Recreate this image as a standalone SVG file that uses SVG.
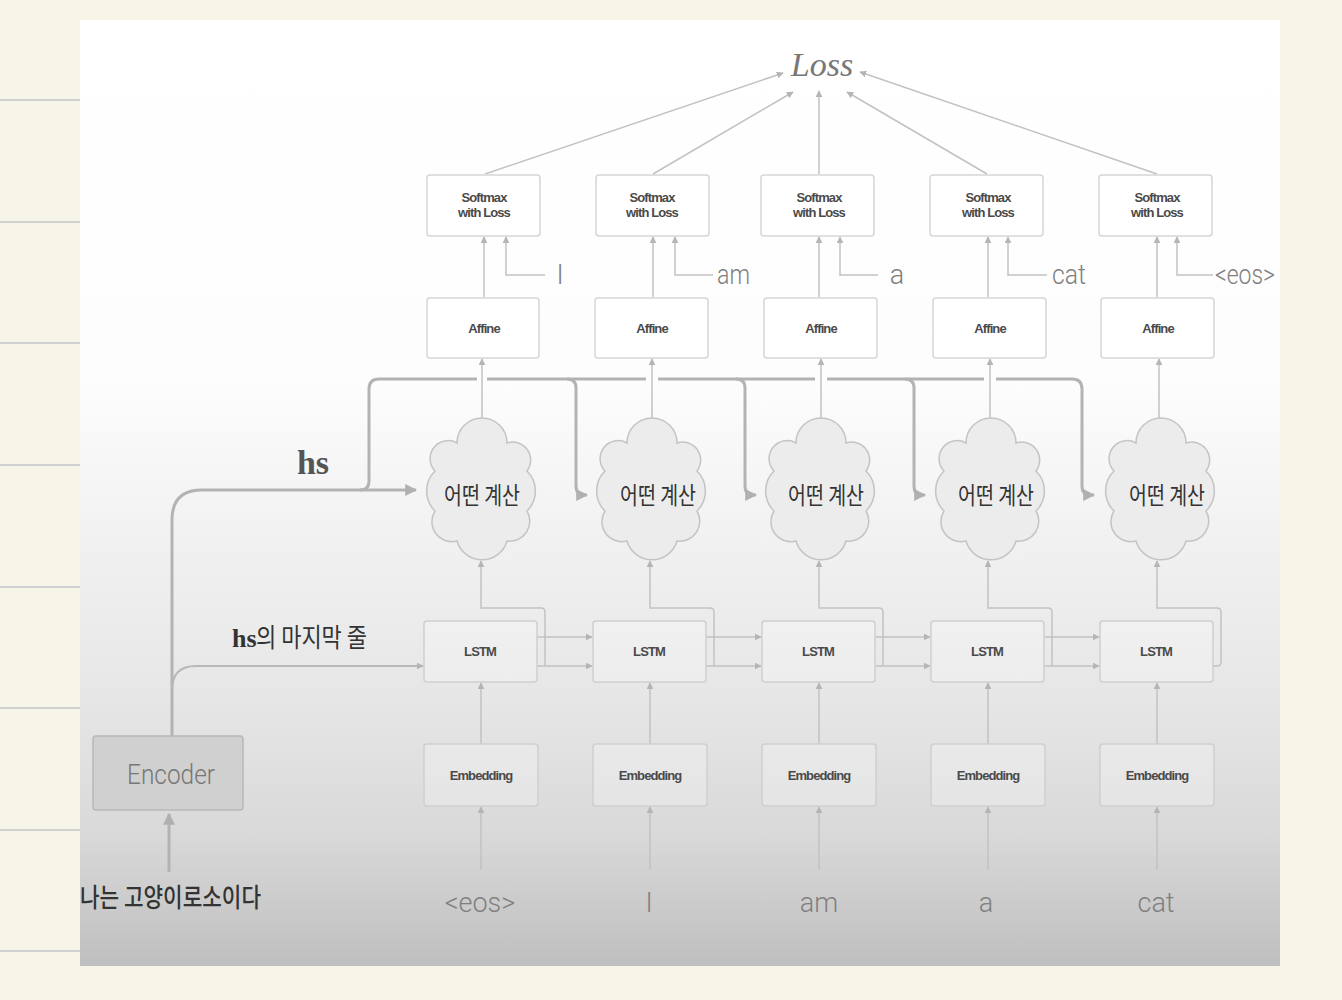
<svg xmlns="http://www.w3.org/2000/svg" width="1342" height="1000" viewBox="0 0 1342 1000">
<defs>
<linearGradient id="bg" gradientUnits="userSpaceOnUse" x1="0" y1="20" x2="0" y2="966">
<stop offset="0" stop-color="#ffffff"/>
<stop offset="0.38" stop-color="#fdfdfd"/>
<stop offset="0.55" stop-color="#f1f1f1"/>
<stop offset="0.72" stop-color="#e6e6e6"/>
<stop offset="0.86" stop-color="#d9d9d9"/>
<stop offset="1" stop-color="#bfbfbf"/>
</linearGradient>
<marker id="ah" viewBox="0 0 10 10" refX="9" refY="5" markerWidth="7" markerHeight="7" markerUnits="userSpaceOnUse" orient="auto"><path d="M0,0 L10,5 L0,10 Z" fill="#b5b5b5"/></marker>
<marker id="ahb" viewBox="0 0 10 10" refX="9" refY="5" markerWidth="12" markerHeight="12" markerUnits="userSpaceOnUse" orient="auto"><path d="M0,0 L10,5 L0,10 Z" fill="#b0b0b0"/></marker>
<path id="cloud" d="M-24,-46 A25,25 0 0 1 26,-46 A18,18 0 0 1 46,-18 A28,28 0 0 1 46,22 A20,20 0 0 1 26,52 A26,26 0 0 1 -24,52 A20,20 0 0 1 -46,22 A28,28 0 0 1 -46,-18 A18,18 0 0 1 -24,-46 Z"/>
</defs>
<style>
.box{fill:#ffffff;stroke:#d6d6d6;stroke-width:1.5}
.box2{fill:#ffffff;fill-opacity:0.25;stroke:#cfcfcf;stroke-width:1.5}
.bt{font-family:"Liberation Sans",Arial,sans-serif;font-size:13px;font-weight:bold;fill:#4a4a4a;text-anchor:middle;letter-spacing:-0.9px}
.ln{fill:none;stroke:#c2c2c2;stroke-width:1.5}
.bus{fill:none;stroke:#b3b3b3;stroke-width:3}
.lbl{font-family:Roboto,"Liberation Sans",sans-serif;font-weight:300;font-size:27px;fill:#808080}
.cl{fill:#ececec;stroke:#c4c4c4;stroke-width:1.5}
.ct{font-family:"Noto Sans CJK KR",sans-serif;font-size:24px;fill:#333}
</style>
<rect x="0" y="0" width="1342" height="1000" fill="#f7f4e8"/>
<g stroke="#cfd0cf" stroke-width="2">
<line x1="0" y1="100" x2="80" y2="100"/><line x1="0" y1="222" x2="80" y2="222"/><line x1="0" y1="343" x2="80" y2="343"/><line x1="0" y1="465" x2="80" y2="465"/><line x1="0" y1="587" x2="80" y2="587"/><line x1="0" y1="708" x2="80" y2="708"/><line x1="0" y1="830" x2="80" y2="830"/><line x1="0" y1="951" x2="80" y2="951"/>
</g>
<rect x="80" y="20" width="1200" height="946" fill="url(#bg)"/>

<g id="connectors">
<line class="ln" x1="485" y1="174" x2="783" y2="73" marker-end="url(#ah)"/>
<line class="ln" x1="653" y1="174" x2="793" y2="92" marker-end="url(#ah)"/>
<line class="ln" x1="819" y1="174" x2="819" y2="91" marker-end="url(#ah)"/>
<line class="ln" x1="987" y1="174" x2="847" y2="92" marker-end="url(#ah)"/>
<line class="ln" x1="1157" y1="174" x2="860" y2="72" marker-end="url(#ah)"/>
<line class="ln" x1="484" y1="297" x2="484" y2="237" marker-end="url(#ah)"/>
<line class="ln" x1="653" y1="297" x2="653" y2="237" marker-end="url(#ah)"/>
<line class="ln" x1="819" y1="297" x2="819" y2="237" marker-end="url(#ah)"/>
<line class="ln" x1="988" y1="297" x2="988" y2="237" marker-end="url(#ah)"/>
<line class="ln" x1="1157" y1="297" x2="1157" y2="237" marker-end="url(#ah)"/>
<path class="ln" d="M545,275 H506 V237" marker-end="url(#ah)"/>
<path class="ln" d="M713,275 H675 V237" marker-end="url(#ah)"/>
<path class="ln" d="M878,275 H840 V237" marker-end="url(#ah)"/>
<path class="ln" d="M1047,275 H1008 V237" marker-end="url(#ah)"/>
<path class="ln" d="M1213,275 H1177 V237" marker-end="url(#ah)"/>
<line class="ln" x1="482" y1="418" x2="482" y2="359" marker-end="url(#ah)"/>
<line class="ln" x1="652" y1="418" x2="652" y2="359" marker-end="url(#ah)"/>
<line class="ln" x1="821" y1="418" x2="821" y2="359" marker-end="url(#ah)"/>
<line class="ln" x1="990" y1="418" x2="990" y2="359" marker-end="url(#ah)"/>
<line class="ln" x1="1159" y1="418" x2="1159" y2="359" marker-end="url(#ah)"/>
<path class="bus" d="M172,736 V520 Q172,490 202,490 H416" marker-end="url(#ahb)"/>
<path class="bus" d="M360,490 Q369,490 369,481 V389 Q369,379 379,379 H477"/>
<path class="bus" d="M487,379 H646"/>
<path class="bus" d="M658,379 H815"/>
<path class="bus" d="M827,379 H984"/>
<path class="bus" d="M996,379 H1072 Q1082,379 1082,389 V486 Q1082,495 1091,495 H1094" marker-end="url(#ahb)"/>
<path class="bus" d="M567,379 Q576,379 576,388 V486 Q576,495 585,495 H587" marker-end="url(#ahb)"/>
<path class="bus" d="M736,379 Q745,379 745,388 V486 Q745,495 754,495 H756" marker-end="url(#ahb)"/>
<path class="bus" d="M905,379 Q914,379 914,388 V486 Q914,495 923,495 H925" marker-end="url(#ahb)"/>
<path class="ln" style="stroke-width:2.2;stroke:#b8b8b8" d="M172,690 Q172,666 196,666 H423" marker-end="url(#ah)"/>
<path class="ln" d="M545,666 V612 Q545,608 541,608 H481 V561" marker-end="url(#ah)"/>
<path class="ln" d="M714,666 V612 Q714,608 710,608 H650 V561" marker-end="url(#ah)"/>
<path class="ln" d="M883,666 V612 Q883,608 879,608 H819 V561" marker-end="url(#ah)"/>
<path class="ln" d="M1052,666 V612 Q1052,608 1048,608 H988 V561" marker-end="url(#ah)"/>
<path class="ln" d="M1213,666 H1217 Q1221,666 1221,662 V612 Q1221,608 1217,608 H1157 V561" marker-end="url(#ah)"/>
<line class="ln" x1="537" y1="637" x2="592" y2="637" marker-end="url(#ah)"/>
<line class="ln" x1="537" y1="666" x2="592" y2="666" marker-end="url(#ah)"/>
<line class="ln" x1="706" y1="637" x2="761" y2="637" marker-end="url(#ah)"/>
<line class="ln" x1="706" y1="666" x2="761" y2="666" marker-end="url(#ah)"/>
<line class="ln" x1="875" y1="637" x2="930" y2="637" marker-end="url(#ah)"/>
<line class="ln" x1="875" y1="666" x2="930" y2="666" marker-end="url(#ah)"/>
<line class="ln" x1="1044" y1="637" x2="1099" y2="637" marker-end="url(#ah)"/>
<line class="ln" x1="1044" y1="666" x2="1099" y2="666" marker-end="url(#ah)"/>
<line class="ln" x1="481" y1="744" x2="481" y2="683" marker-end="url(#ah)"/>
<line class="ln" x1="650" y1="744" x2="650" y2="683" marker-end="url(#ah)"/>
<line class="ln" x1="819" y1="744" x2="819" y2="683" marker-end="url(#ah)"/>
<line class="ln" x1="988" y1="744" x2="988" y2="683" marker-end="url(#ah)"/>
<line class="ln" x1="1157" y1="744" x2="1157" y2="683" marker-end="url(#ah)"/>
<line class="ln" x1="481" y1="870" x2="481" y2="807" marker-end="url(#ah)"/>
<line class="ln" x1="650" y1="870" x2="650" y2="807" marker-end="url(#ah)"/>
<line class="ln" x1="819" y1="870" x2="819" y2="807" marker-end="url(#ah)"/>
<line class="ln" x1="988" y1="870" x2="988" y2="807" marker-end="url(#ah)"/>
<line class="ln" x1="1157" y1="870" x2="1157" y2="807" marker-end="url(#ah)"/>
<line class="bus" x1="169" y1="872" x2="169" y2="814" marker-end="url(#ahb)"/>
</g>

<g id="loss"><text x="822" y="76" font-family="'Liberation Serif',serif" font-style="italic" font-size="34" fill="#777" text-anchor="middle">Loss</text></g>

<g id="softmax1"><rect class="box" x="427" y="175" width="113" height="61" rx="3"/><text class="bt" x="484" y="202" font-size="12">Softmax</text><text class="bt" x="484" y="217" font-size="12">with Loss</text></g>
<g id="softmax2"><rect class="box" x="596" y="175" width="113" height="61" rx="3"/><text class="bt" x="652" y="202" font-size="12">Softmax</text><text class="bt" x="652" y="217" font-size="12">with Loss</text></g>
<g id="softmax3"><rect class="box" x="761" y="175" width="113" height="61" rx="3"/><text class="bt" x="819" y="202" font-size="12">Softmax</text><text class="bt" x="819" y="217" font-size="12">with Loss</text></g>
<g id="softmax4"><rect class="box" x="930" y="175" width="113" height="61" rx="3"/><text class="bt" x="988" y="202" font-size="12">Softmax</text><text class="bt" x="988" y="217" font-size="12">with Loss</text></g>
<g id="softmax5"><rect class="box" x="1099" y="175" width="113" height="61" rx="3"/><text class="bt" x="1157" y="202" font-size="12">Softmax</text><text class="bt" x="1157" y="217" font-size="12">with Loss</text></g>

<g id="label-I"><text class="lbl" x="560" y="284" text-anchor="middle">I</text></g>
<g id="label-am"><text class="lbl" x="717" y="284" textLength="33" lengthAdjust="spacingAndGlyphs">am</text></g>
<g id="label-a"><text class="lbl" x="897" y="284" text-anchor="middle">a</text></g>
<g id="label-cat"><text class="lbl" x="1052" y="284" textLength="34" lengthAdjust="spacingAndGlyphs">cat</text></g>
<g id="label-eos"><text class="lbl" x="1215" y="284" textLength="60" lengthAdjust="spacingAndGlyphs">&lt;eos&gt;</text></g>

<g id="affine1"><rect class="box" x="427" y="298" width="112" height="60" rx="3"/><text class="bt" x="484" y="333">Affine</text></g>
<g id="affine2"><rect class="box" x="595" y="298" width="113" height="60" rx="3"/><text class="bt" x="652" y="333">Affine</text></g>
<g id="affine3"><rect class="box" x="764" y="298" width="113" height="60" rx="3"/><text class="bt" x="821" y="333">Affine</text></g>
<g id="affine4"><rect class="box" x="933" y="298" width="113" height="60" rx="3"/><text class="bt" x="990" y="333">Affine</text></g>
<g id="affine5"><rect class="box" x="1101" y="298" width="113" height="60" rx="3"/><text class="bt" x="1158" y="333">Affine</text></g>

<g id="hs-label"><text x="313" y="474" font-family="'Liberation Serif',serif" font-weight="bold" font-size="34" fill="#555" text-anchor="middle">hs</text></g>

<g id="cloud1"><use href="#cloud" class="cl" transform="translate(481,489)"/><text class="ct" x="444" y="504" textLength="76" lengthAdjust="spacingAndGlyphs">어떤 계산</text></g>
<g id="cloud2"><use href="#cloud" class="cl" transform="translate(651,489)"/><text class="ct" x="620" y="504" textLength="76" lengthAdjust="spacingAndGlyphs">어떤 계산</text></g>
<g id="cloud3"><use href="#cloud" class="cl" transform="translate(820,489)"/><text class="ct" x="788" y="504" textLength="76" lengthAdjust="spacingAndGlyphs">어떤 계산</text></g>
<g id="cloud4"><use href="#cloud" class="cl" transform="translate(990,489)"/><text class="ct" x="958" y="504" textLength="76" lengthAdjust="spacingAndGlyphs">어떤 계산</text></g>
<g id="cloud5"><use href="#cloud" class="cl" transform="translate(1160,489)"/><text class="ct" x="1129" y="504" textLength="76" lengthAdjust="spacingAndGlyphs">어떤 계산</text></g>

<g id="hs-last-label"><text x="232" y="647" font-size="26" fill="#333" font-family="'Liberation Serif',serif" font-weight="bold">hs</text><text x="256" y="647" font-size="26" fill="#333" font-family="'Noto Sans CJK KR',sans-serif" textLength="111" lengthAdjust="spacingAndGlyphs">의 마지막 줄</text></g>

<g id="lstm1"><rect class="box2" x="424" y="621" width="113" height="61" rx="3"/><text class="bt" x="480" y="656">LSTM</text></g>
<g id="lstm2"><rect class="box2" x="593" y="621" width="113" height="61" rx="3"/><text class="bt" x="649" y="656">LSTM</text></g>
<g id="lstm3"><rect class="box2" x="762" y="621" width="113" height="61" rx="3"/><text class="bt" x="818" y="656">LSTM</text></g>
<g id="lstm4"><rect class="box2" x="931" y="621" width="113" height="61" rx="3"/><text class="bt" x="987" y="656">LSTM</text></g>
<g id="lstm5"><rect class="box2" x="1100" y="621" width="113" height="61" rx="3"/><text class="bt" x="1156" y="656">LSTM</text></g>

<g id="emb1"><rect class="box2" x="424" y="744" width="114" height="62" rx="3"/><text class="bt" x="481" y="780">Embedding</text></g>
<g id="emb2"><rect class="box2" x="593" y="744" width="114" height="62" rx="3"/><text class="bt" x="650" y="780">Embedding</text></g>
<g id="emb3"><rect class="box2" x="762" y="744" width="114" height="62" rx="3"/><text class="bt" x="819" y="780">Embedding</text></g>
<g id="emb4"><rect class="box2" x="931" y="744" width="114" height="62" rx="3"/><text class="bt" x="988" y="780">Embedding</text></g>
<g id="emb5"><rect class="box2" x="1100" y="744" width="114" height="62" rx="3"/><text class="bt" x="1157" y="780">Embedding</text></g>

<g id="encoder"><rect x="93" y="736" width="150" height="74" rx="3" fill="#d0d0d0" stroke="#b8b8b8" stroke-width="1.5"/><text x="127" y="784" font-family="Roboto,'Liberation Sans',sans-serif" font-weight="300" font-size="28" fill="#777" textLength="88" lengthAdjust="spacingAndGlyphs">Encoder</text></g>

<g id="inputs">
<text class="lbl" x="480" y="912" text-anchor="middle">&lt;eos&gt;</text>
<text class="lbl" x="649" y="912" text-anchor="middle">I</text>
<text class="lbl" x="819" y="912" text-anchor="middle">am</text>
<text class="lbl" x="986" y="912" text-anchor="middle">a</text>
<text class="lbl" x="1156" y="912" text-anchor="middle">cat</text>
<text x="80" y="907" font-family="'Noto Sans CJK KR',sans-serif" font-weight="500" font-size="26" fill="#333" textLength="181" lengthAdjust="spacingAndGlyphs">나는 고양이로소이다</text>
</g>
</svg>
